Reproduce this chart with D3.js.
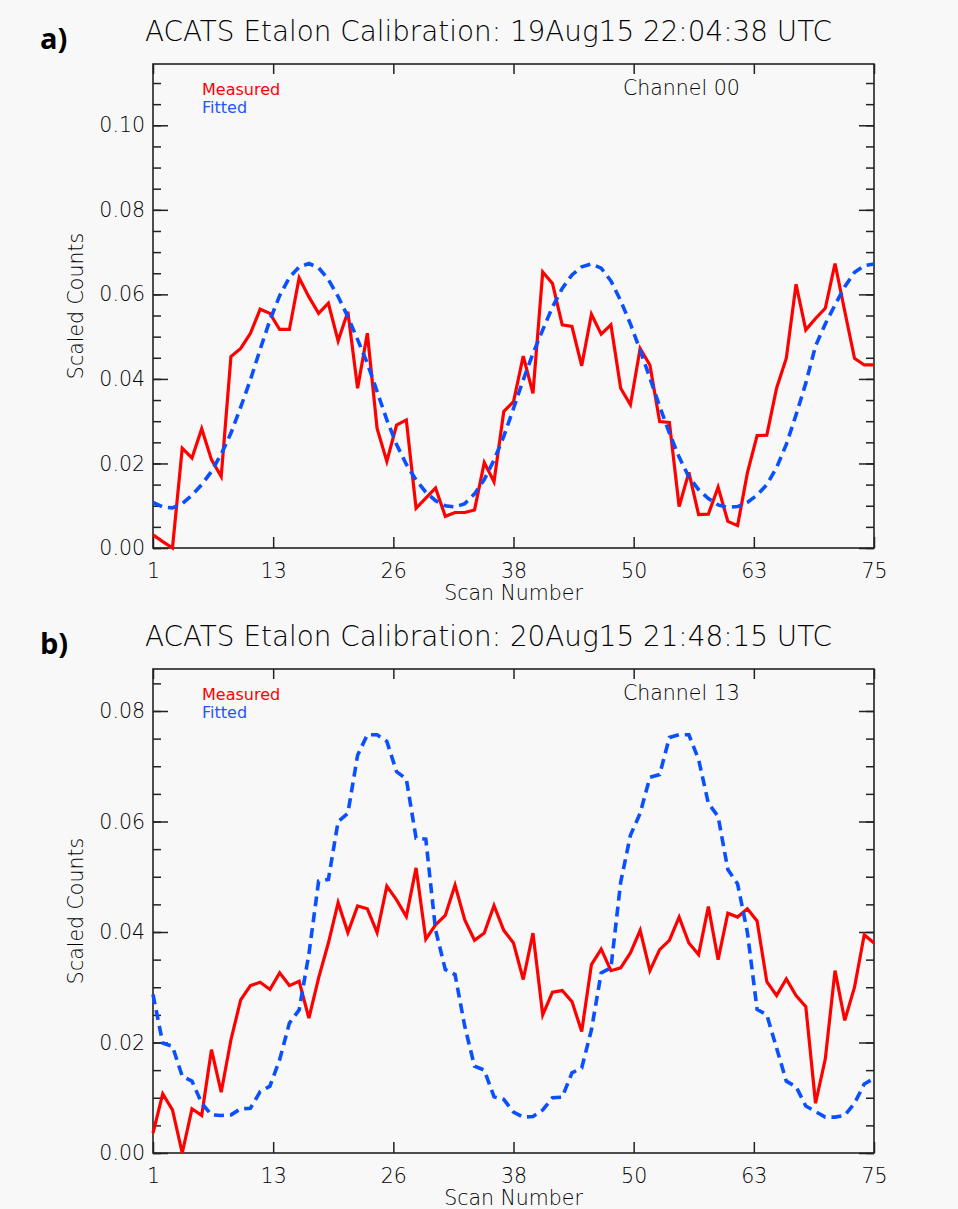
<!DOCTYPE html>
<head>
  <meta charset="utf-8">
  <script src="https://cdn.jsdelivr.net/npm/d3@7"></script>
  <style>
body {
	margin:0;
	background:#f8f8f8;
	}
.idl {
	font-family: "DejaVu Sans", sans-serif;
	font-weight: 200;
	fill: #000;
	}
.tag {
	font-family: "Open Sans", sans-serif;
	font-weight: 700;
	font-size: 29px;
	fill: #000;
	}
  </style>
</head>

<body>
  <div id="graph">
  </div>
<script>
// scan numbers on the x axis
var scans = d3.range(1, 76);

// panel a) 19Aug15, channel 00
var measuredA = [0.0031,0.0015,0.0000,0.0236,0.0213,0.0282,0.0209,0.0169,0.0453,0.0472,
  0.0508,0.0565,0.0555,0.0517,0.0517,0.0639,0.0594,0.0555,0.0579,0.0490,
  0.0559,0.0378,0.0508,0.0283,0.0205,0.0291,0.0303,0.0094,0.0118,0.0142,
  0.0075,0.0084,0.0084,0.0090,0.0202,0.0157,0.0323,0.0346,0.0454,0.0366,
  0.0653,0.0626,0.0528,0.0524,0.0431,0.0553,0.0506,0.0528,0.0378,0.0339,
  0.0472,0.0433,0.0299,0.0297,0.0098,0.0179,0.0079,0.0080,0.0144,0.0063,
  0.0053,0.0177,0.0266,0.0267,0.0378,0.0449,0.0624,0.0516,0.0543,0.0567,
  0.0673,0.0560,0.0449,0.0433,0.0433];
var fittedA = [0.0108,0.0097,0.0095,0.0105,0.0125,0.0150,0.0181,0.0222,0.0272,0.0333,
  0.0398,0.0470,0.0539,0.0597,0.0640,0.0665,0.0673,0.0663,0.0635,0.0595,
  0.0547,0.0493,0.0437,0.0370,0.0303,0.0245,0.0198,0.0161,0.0132,0.0112,
  0.0100,0.0097,0.0105,0.0128,0.0162,0.0208,0.0264,0.0330,0.0398,0.0460,
  0.0516,0.0570,0.0614,0.0646,0.0665,0.0672,0.0662,0.0632,0.0585,0.0530,
  0.0468,0.0402,0.0335,0.0272,0.0215,0.0168,0.0138,0.0117,0.0102,0.0096,
  0.0098,0.0108,0.0125,0.0150,0.0190,0.0245,0.0315,0.0390,0.0478,0.0530,
  0.0575,0.0618,0.0652,0.0668,0.0672];

// panel b) 20Aug15, channel 13
var measuredB = [0.0036,0.0107,0.0078,0.0000,0.0080,0.0068,0.0187,0.0110,0.0205,0.0277,
  0.0303,0.0309,0.0296,0.0326,0.0303,0.0311,0.0244,0.0317,0.0380,0.0453,
  0.0399,0.0447,0.0442,0.0399,0.0483,0.0458,0.0428,0.0516,0.0387,0.0413,
  0.0430,0.0485,0.0422,0.0385,0.0398,0.0448,0.0403,0.0380,0.0314,0.0398,
  0.0250,0.0291,0.0294,0.0274,0.0220,0.0341,0.0369,0.0330,0.0335,0.0362,
  0.0403,0.0330,0.0368,0.0385,0.0427,0.0380,0.0359,0.0446,0.0350,0.0434,
  0.0427,0.0442,0.0420,0.0310,0.0285,0.0315,0.0285,0.0265,0.0090,0.0170,
  0.0330,0.0240,0.0300,0.0395,0.0380];
var fittedB = [0.0287,0.0199,0.0193,0.0139,0.0130,0.0090,0.0069,0.0068,0.0069,0.0080,
  0.0081,0.0111,0.0121,0.0169,0.0235,0.0259,0.0360,0.0492,0.0495,0.0600,
  0.0615,0.0720,0.0757,0.0757,0.0745,0.0690,0.0677,0.0570,0.0568,0.0404,
  0.0332,0.0323,0.0229,0.0157,0.0150,0.0102,0.0097,0.0074,0.0065,0.0066,
  0.0078,0.0100,0.0101,0.0145,0.0154,0.0223,0.0326,0.0335,0.0490,0.0575,
  0.0615,0.0680,0.0685,0.0752,0.0757,0.0757,0.0712,0.0633,0.0609,0.0513,
  0.0487,0.0400,0.0260,0.0250,0.0190,0.0130,0.0120,0.0085,0.0075,0.0065,
  0.0065,0.0068,0.0090,0.0125,0.0135];

// tick labels
var xTickValues = [1, 13.333, 25.667, 38, 50.333, 62.667, 75];
var xTickLabels = ["1", "13", "26", "38", "50", "63", "75"];
var yTicksA = [0, 0.02, 0.04, 0.06, 0.08, 0.10];
var yTicksB = [0, 0.02, 0.04, 0.06, 0.08];

var W = 958, H = 1209;
var left = 153, right = 874;

var svg = d3.select("#graph")
        .append("svg")
        .attr("width", W)
        .attr("height", H);

svg.append("rect")
    .attr("width", W)
    .attr("height", H)
    .attr("fill", "#f8f8f8");

var x = d3.scaleLinear().domain([1, 75]).range([left, right]);

function drawPanel(p) {
  var y = d3.scaleLinear().domain([0, p.yMax]).range([p.bottom, p.top]);
  var g = svg.append("g");

  // panel tag and title
  g.append("text")
      .attr("class", "tag")
      .attr("x", 40)
      .attr("y", p.top - 15)
      .text(p.tag);
  g.append("text")
      .attr("class", "idl")
      .attr("x", 145)
      .attr("y", p.top - 23)
      .attr("textLength", 687)
      .attr("lengthAdjust", "spacingAndGlyphs")
      .style("font-size", "27.5px")
      .text(p.title);

  // minor y ticks every 0.005
  var minor = d3.range(0, p.yMax, 0.005);
  g.append("g").attr("transform", "translate(" + left + ",0)")
      .call(d3.axisLeft(y).tickValues(minor).tickSize(-8).tickFormat(""));
  g.append("g").attr("transform", "translate(" + right + ",0)")
      .call(d3.axisRight(y).tickValues(minor).tickSize(-8).tickFormat(""));

  // major y ticks with labels
  g.append("g")
      .attr("transform", "translate(" + left + ",0)")
      .call(d3.axisLeft(y).tickValues(p.yTicks).tickSize(-15).tickPadding(8)
        .tickFormat(d3.format(".2f")));
  g.append("g")
      .attr("transform", "translate(" + right + ",0)")
      .call(d3.axisRight(y).tickValues(p.yTicks).tickSize(-15).tickFormat(""));

  // x ticks, bottom and top
  g.append("g")
      .attr("transform", "translate(0," + p.bottom + ")")
      .call(d3.axisBottom(x).tickValues(xTickValues).tickSize(-11).tickPadding(15)
        .tickFormat(function(d, i) { return xTickLabels[i]; }));
  g.append("g")
      .attr("transform", "translate(0," + p.top + ")")
      .call(d3.axisTop(x).tickValues(xTickValues).tickSize(-10).tickFormat(""));

  g.selectAll(".domain").remove();
  g.selectAll(".tick line").attr("stroke", "#222").attr("stroke-width", 1.5);
  g.selectAll(".tick text")
      .attr("class", "idl")
      .style("font-size", "20.5px")
      .attr("font-family", null);

  // frame
  g.append("rect")
      .attr("x", left)
      .attr("y", p.top)
      .attr("width", right - left)
      .attr("height", p.bottom - p.top)
      .attr("fill", "none")
      .attr("stroke", "#222")
      .attr("stroke-width", 1.6);

  // axis titles
  g.append("text")
      .attr("class", "idl")
      .attr("x", (left + right) / 2)
      .attr("y", p.bottom + 52)
      .attr("text-anchor", "middle")
      .style("font-size", "20.5px")
      .text("Scan Number");
  g.append("text")
      .attr("class", "idl")
      .attr("transform", "translate(83," + (p.top + p.bottom) / 2 + ") rotate(-90)")
      .attr("text-anchor", "middle")
      .style("font-size", "20.5px")
      .text("Scaled Counts");

  // legend and channel
  g.append("text")
      .attr("x", 202).attr("y", p.top + 31)
      .style("font-family", "DejaVu Sans").style("font-size", "16px")
      .attr("fill", "#ff0000")
      .text("Measured");
  g.append("text")
      .attr("x", 202).attr("y", p.top + 49)
      .style("font-family", "DejaVu Sans").style("font-size", "16px")
      .attr("fill", "#1f55ff")
      .text("Fitted");
  g.append("text")
      .attr("class", "idl")
      .attr("x", 623).attr("y", p.top + 31)
      .style("font-size", "20.5px")
      .text(p.channel);

  var line = d3.line()
      .x(function(d, i) { return x(scans[i]); })
      .y(function(d) { return y(d); });

  g.append("path")
      .datum(p.measured)
      .attr("d", line)
      .attr("fill", "none")
      .attr("stroke", "#ff0000")
      .attr("stroke-width", 3.2)
      .attr("stroke-linejoin", "miter");

  g.append("path")
      .datum(p.fitted)
      .attr("d", line)
      .attr("fill", "none")
      .attr("stroke", "#0a50ff")
      .attr("stroke-width", 3.6)
      .attr("stroke-dasharray", "10,6");
}

drawPanel({tag: "a)", title: "ACATS Etalon Calibration: 19Aug15 22:04:38 UTC",
  channel: "Channel 00", top: 64, bottom: 548, yMax: 0.1145, yTicks: yTicksA,
  measured: measuredA, fitted: fittedA});
drawPanel({tag: "b)", title: "ACATS Etalon Calibration: 20Aug15 21:48:15 UTC",
  channel: "Channel 13", top: 669, bottom: 1153, yMax: 0.0876, yTicks: yTicksB,
  measured: measuredB, fitted: fittedB});
</script>
</body>
